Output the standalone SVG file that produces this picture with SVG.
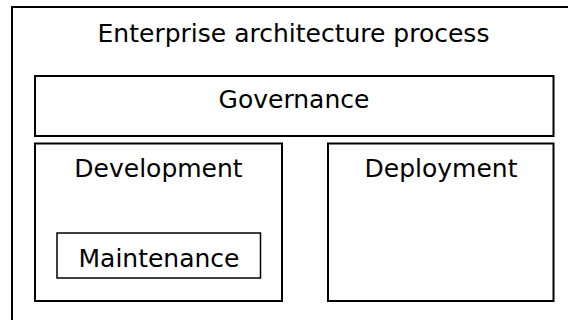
<svg xmlns="http://www.w3.org/2000/svg" width="568" height="320" viewBox="0 0 568 320">
<style>
.box{fill:#fff;stroke:#000;stroke-width:2}
.inner{fill:#fff;stroke:#000;stroke-width:1.5}
.lbl{font-family:"DejaVu Sans",Verdana,sans-serif;font-size:25px;fill:#000;text-anchor:middle}
</style>
<rect width="568" height="320" fill="#fff"/>
<g id="enterprise-architecture-process">
<rect class="box" x="12" y="7" width="563" height="330"/>
<text class="lbl" x="293.5" y="41.5">Enterprise architecture process</text>
</g>
<g id="governance">
<rect class="box" x="35" y="76" width="518.5" height="60"/>
<text class="lbl" x="294" y="108.3">Governance</text>
</g>
<g id="development">
<rect class="box" x="35" y="143.5" width="247" height="157.5"/>
<text class="lbl" x="158.5" y="177.3">Development</text>
</g>
<g id="deployment">
<rect class="box" x="328" y="143.5" width="225.5" height="157.5"/>
<text class="lbl" x="441" y="177.3">Deployment</text>
</g>
<g id="maintenance">
<rect class="inner" x="57" y="233" width="203.5" height="45"/>
<text class="lbl" x="159" y="267.3">Maintenance</text>
</g>
<g id="connectors"/>
</svg>
